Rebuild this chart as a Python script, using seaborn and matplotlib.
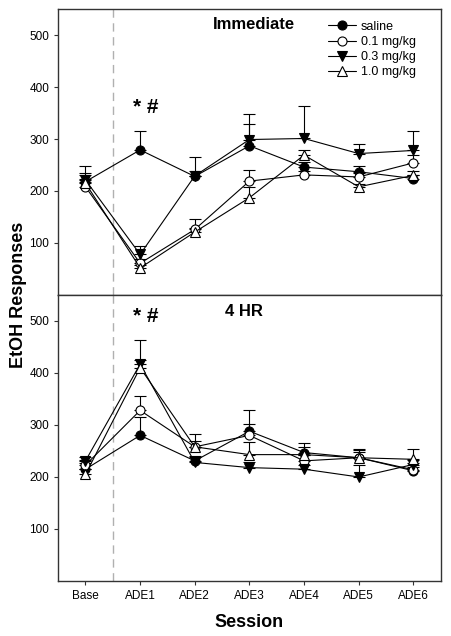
import matplotlib
matplotlib.use("Agg")
import matplotlib.pyplot as plt
import seaborn as sns
import numpy as np
import pandas as pd

sessions = ["Base", "ADE1", "ADE2", "ADE3", "ADE4", "ADE5", "ADE6"]
groups = ["saline", "0.1 mg/kg", "0.3 mg/kg", "1.0 mg/kg"]

# Immediate: means and upper SEM
imm_saline = [218, 279, 228, 287, 246, 237, 224]
imm_saline_err = [12, 36, 37, 42, 10, 11, 6]
imm_01 = [208, 61, 126, 219, 231, 227, 254]
imm_01_err = [15, 8, 21, 22, 7, 8, 15]
imm_03 = [221, 78, 229, 299, 301, 272, 278]
imm_03_err = [27, 16, 10, 50, 62, 19, 37]
imm_10 = [215, 52, 121, 187, 269, 208, 230]
imm_10_err = [20, 6, 8, 20, 10, 6, 8]

# 4 HR: means and upper SEM
hr4_saline = [215, 280, 231, 288, 247, 237, 212]
hr4_saline_err = [12, 35, 10, 41, 10, 12, 8]
hr4_01 = [223, 328, 258, 280, 231, 237, 214]
hr4_01_err = [10, 28, 24, 21, 12, 14, 12]
hr4_03 = [231, 417, 228, 218, 215, 200, 224]
hr4_03_err = [7, 46, 10, 10, 8, 23, 8]
hr4_10 = [205, 410, 258, 243, 243, 237, 234]
hr4_10_err = [10, 14, 12, 25, 22, 16, 20]

styles = {
    "saline": dict(marker="o", mfc="black"),
    "0.1 mg/kg": dict(marker="o", mfc="white"),
    "0.3 mg/kg": dict(marker="v", mfc="black"),
    "1.0 mg/kg": dict(marker="^", mfc="white"),
}

sns.set_style("ticks")
plt.rcParams["font.family"] = ["Liberation Sans", "DejaVu Sans"]
plt.rcParams["text.color"] = "black"
plt.rcParams["xtick.color"] = "black"
plt.rcParams["ytick.color"] = "black"

fig = plt.figure(figsize=(4.51, 6.36), dpi=100)
ax1 = fig.add_axes([0.129, 0.5362, 0.848, 0.4496])
ax2 = fig.add_axes([0.129, 0.0865, 0.848, 0.4497])

x = np.arange(len(sessions))
panels = [
    (ax1, [imm_saline, imm_01, imm_03, imm_10],
     [imm_saline_err, imm_01_err, imm_03_err, imm_10_err]),
    (ax2, [hr4_saline, hr4_01, hr4_03, hr4_10],
     [hr4_saline_err, hr4_01_err, hr4_03_err, hr4_10_err]),
]

for ax, means, errs in panels:
    for g, m, e in zip(groups, means, errs):
        st = styles[g]
        df = pd.DataFrame({"x": x, "y": m})
        ax.errorbar(x, m, yerr=[np.zeros(len(e)), e], fmt="none",
                    ecolor="black", elinewidth=0.8, capsize=4, capthick=0.8, zorder=2)
        sns.lineplot(data=df, x="x", y="y", ax=ax, color="black", linewidth=0.8,
                     marker=st["marker"], markersize=6.5, markerfacecolor=st["mfc"],
                     markeredgecolor="black", markeredgewidth=0.8, label=g,
                     legend=False, zorder=3)
    ax.axvline(0.5, color="#b0b0b0", linestyle=(0, (6, 4)), linewidth=1.0, zorder=1)
    ax.set_xlim(-0.5, 6.5)
    ax.set_ylim(0, 550)
    ax.set_yticks([100, 200, 300, 400, 500])
    ax.tick_params(axis="y", labelsize=8.5, length=3, width=0.8, color="#333333",
                   labelcolor="black")
    ax.set_ylabel("")
    ax.set_xlabel("")
    for sp in ax.spines.values():
        sp.set_visible(True)
        sp.set_color("#333333")
        sp.set_linewidth(1.0)

ax1.text(3.08, 521, "Immediate", fontsize=12, fontweight="bold", ha="center", va="center")
ax2.text(2.9, 519, "4 HR", fontsize=12, fontweight="bold", ha="center", va="center")
ax1.text(1.11, 361, "* #", fontsize=15, fontweight="bold", ha="center", va="center")
ax2.text(1.11, 509, "* #", fontsize=15, fontweight="bold", ha="center", va="center")

ax1.set_xticks([])
ax2.set_xticks(x)
ax2.set_xticklabels(sessions)
ax2.tick_params(axis="x", labelsize=8.5, length=3, width=0.8, color="#333333",
                labelcolor="black")

handles, labels = ax1.get_legend_handles_labels()
ax1.legend(handles, labels, loc="upper right", bbox_to_anchor=(0.955, 0.985), frameon=False,
           fontsize=9, handlelength=2.2, handletextpad=0.4, labelspacing=0.25,
           borderaxespad=0.2)

fig.text(0.04, 0.536, "EtOH Responses", rotation=90, fontsize=13, fontweight="bold",
         ha="center", va="center")
fig.text(0.553, 0.022, "Session", fontsize=13, fontweight="bold", ha="center", va="center")

fig.savefig("out.png", dpi=100)
